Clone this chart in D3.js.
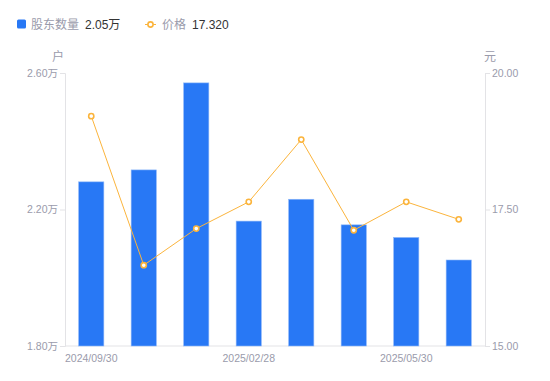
<!DOCTYPE html>
<html>
<head>
<meta charset="utf-8">
<script src="https://cdn.jsdelivr.net/npm/d3@7"></script>
<style>
  body { margin: 0; background: #fff; }
  svg text { font-family: "Liberation Sans", "Noto Sans CJK SC", sans-serif; }
</style>
</head>
<body>
<div id="chart"></div>
<script>
// dates, holders (万户) and price (元)
let dates = ["2024/09/30","2024/12/31","2025/01/20","2025/02/28","2025/03/31","2025/04/30","2025/05/30","2025/06/30"]
let holders = [2.281, 2.316, 2.571, 2.166, 2.230, 2.155, 2.118, 2.052]
let prices = [19.21, 16.48, 17.15, 17.64, 18.78, 17.12, 17.64, 17.32]
let leftTicks = [1.8, 2.2, 2.6]
let rightTicks = [15, 17.5, 20]
let shownDates = ["2024/09/30","2025/02/28","2025/05/30"]

var W = 550, H = 381
var mLeft = 65, mRight = 485, mTop = 73, mBottom = 346
var gray = "#9a9bab", axisCol = "#e3e3e6", blue = "#2878f5", orange = "#fbb43c"

var svg = d3.select("#chart").append("svg").attr("width", W).attr("height", H)

var x = d3.scaleBand().domain(dates).range([mLeft, mRight]).paddingInner(0.52).paddingOuter(0.26)
var yL = d3.scaleLinear().domain([1.8, 2.6]).range([mBottom, mTop])
var yR = d3.scaleLinear().domain([15, 20]).range([mBottom, mTop])

// axes
var axL = svg.append("g").attr("transform", `translate(${mLeft},0)`)
  .call(d3.axisLeft(yL).tickValues(leftTicks).tickSize(5).tickFormat(d => d3.format(".2f")(d) + "万"))
var axR = svg.append("g").attr("transform", `translate(${mRight},0)`)
  .call(d3.axisRight(yR).tickValues(rightTicks).tickSize(5).tickFormat(d3.format(".2f")))
var axX = svg.append("g").attr("transform", `translate(0,${mBottom})`)
  .call(d3.axisBottom(x).tickSize(0).tickFormat(d => shownDates.includes(d) ? d : ""))
;[axL, axR, axX].forEach(a => {
  a.selectAll("path").attr("stroke", axisCol)
  a.selectAll("line").attr("stroke", axisCol)
  a.selectAll("text").attr("fill", gray).style("font-size", "10.5px")
})
axL.selectAll("text").attr("x", -7)
axR.selectAll("text").attr("x", 7)
axX.selectAll("text").attr("dy", "1.2em")
axX.select("path").attr("d", `M${mLeft},0H${mRight}`)

svg.append("text").text("户").attr("x", 58).attr("y", 61).attr("text-anchor", "middle").attr("fill", gray).style("font-size", "12px")
svg.append("text").text("元").attr("x", 490).attr("y", 61).attr("text-anchor", "middle").attr("fill", gray).style("font-size", "12px")

// bars
svg.selectAll(".bar").data(holders).enter().append("rect")
  .attr("x", (d, i) => x(dates[i])).attr("y", d => yL(d))
  .attr("width", x.bandwidth()).attr("height", d => mBottom - yL(d))
  .attr("fill", blue).attr("stroke", "#8db7f8").attr("stroke-width", 0.6)

// price line
var line = d3.line().x((d, i) => x(dates[i]) + x.bandwidth() / 2).y(d => yR(d))
svg.append("path").datum(prices).attr("d", line).attr("fill", "none").attr("stroke", orange).attr("stroke-width", 1)
svg.selectAll(".pt").data(prices).enter().append("circle")
  .attr("cx", (d, i) => x(dates[i]) + x.bandwidth() / 2).attr("cy", d => yR(d)).attr("r", 2.6)
  .attr("fill", "#fff").attr("stroke", orange).attr("stroke-width", 1.6)

// legend
svg.append("rect").attr("x", 17).attr("y", 19.5).attr("width", 9).attr("height", 9).attr("rx", 1.5).attr("fill", blue)
svg.append("text").text("股东数量").attr("x", 31).attr("y", 29).attr("fill", gray).style("font-size", "12px")
svg.append("text").text("2.05万").attr("x", 85).attr("y", 29).attr("fill", "#333").style("font-size", "12px")
svg.append("line").attr("x1", 145).attr("x2", 156).attr("y1", 24.5).attr("y2", 24.5).attr("stroke", orange).attr("stroke-width", 1)
svg.append("circle").attr("cx", 150.5).attr("cy", 24.5).attr("r", 2.6).attr("fill", "#fff").attr("stroke", orange).attr("stroke-width", 1.6)
svg.append("text").text("价格").attr("x", 162).attr("y", 29).attr("fill", gray).style("font-size", "12px")
svg.append("text").text("17.320").attr("x", 192).attr("y", 29).attr("fill", "#333").style("font-size", "12px")
</script>
</body>
</html>
